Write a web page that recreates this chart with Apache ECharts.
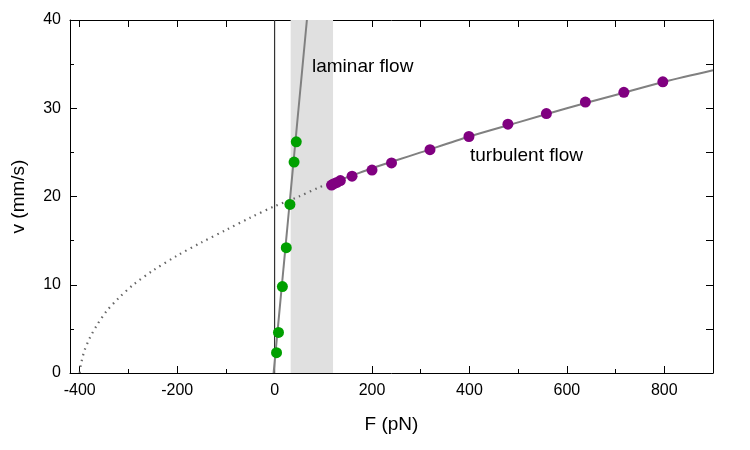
<!DOCTYPE html>
<html>
<head>
<meta charset="utf-8">
<script src="https://cdn.jsdelivr.net/npm/echarts@6/dist/echarts.min.js"></script>
<style>
  html, body { margin: 0; padding: 0; background: #fff; }
  #grafico { width: 750px; height: 450px; }
</style>
</head>
<body>
<div id="grafico"></div>
<script>
// laminar points (green)
const laminarF = [4, 8, 16, 24, 31.5, 40, 44.5]
const laminarV = [2.3, 4.6, 9.8, 14.2, 19.1, 23.9, 26.2]

// turbulent points (purple)
const turbF = [117, 122, 128, 135, 159, 200, 240, 319, 399, 479, 558, 638, 717, 797]
const turbV = [21.3, 21.45, 21.6, 21.8, 22.3, 23.0, 23.8, 25.3, 26.8, 28.2, 29.4, 30.7, 31.8, 33.0]

// fit curves
const lamFitF = [-2, 66.3]
const lamFitV = [0, 40]
const dottedF = [-400, -398, -395, -390, -380, -365, -345, -320, -290, -250, -200, -150, -100, -50, 0, 50, 90, 120]
const dottedV = [0, 0.9, 1.6, 2.6, 3.9, 5.4, 7.0, 8.5, 10.0, 11.6, 13.3, 14.8, 16.2, 17.6, 18.9, 20.0, 21.0, 21.6]
const solidF = [120, 160, 200, 250, 300, 400, 500, 600, 700, 800, 900]
const solidV = [21.6, 22.4, 23.2, 24.1, 25.0, 26.8, 28.4, 30.0, 31.5, 33.0, 34.3]

// zero line and transition band
const zeroF = [0, 0]
const zeroV = [0, 40]
const bandF = [33, 120]

// ticks
const xMajorTicks = [-400, -200, 0, 200, 400, 600, 800]
const xMinorTicks = [-300, -100, 100, 300, 500, 700]
const xAllTicks = [-400, -300, -200, -100, 0, 100, 200, 300, 400, 500, 600, 700, 800]

const zip = (a, b) => a.map((v, i) => [v, b[i]])
const font = '"Liberation Sans", Arial, Helvetica, sans-serif'

let myChart = echarts.init(document.getElementById('grafico'))

const tickBase = (len) => ({ show: true, inside: true, length: len, lineStyle: { color: '#000', width: 1 } })
const frameLine = { show: true, onZero: false, lineStyle: { color: '#000', width: 1 } }
const noLine = { show: false, onZero: false }

let option = {
  animation: false,
  backgroundColor: '#fff',
  textStyle: { fontFamily: font },
  grid: { left: 70, right: 37, top: 20, bottom: 77 },
  xAxis: [
    {
      type: 'value', position: 'bottom', min: -420, max: 900,
      name: 'F (pN)', nameLocation: 'middle', nameGap: 42,
      nameTextStyle: { fontSize: 19, color: '#000', fontFamily: font },
      axisLine: frameLine,
      axisTick: Object.assign(tickBase(7), { customValues: xMajorTicks }),
      axisLabel: { customValues: xMajorTicks, fontSize: 16, color: '#000', margin: 10, fontFamily: font },
      splitLine: { show: false }
    },
    {
      type: 'value', position: 'bottom', min: -420, max: 900,
      axisLine: noLine,
      axisTick: Object.assign(tickBase(4), { customValues: xMinorTicks }),
      axisLabel: { show: false },
      splitLine: { show: false }
    },
    {
      type: 'value', position: 'top', min: -420, max: 900,
      axisLine: frameLine,
      axisTick: Object.assign(tickBase(7), { customValues: xAllTicks }),
      axisLabel: { show: false },
      splitLine: { show: false }
    }
  ],
  yAxis: [
    {
      type: 'value', position: 'left', min: 0, max: 40, interval: 10,
      name: 'v (mm/s)', nameLocation: 'middle', nameGap: 42, nameRotate: 90,
      nameTextStyle: { fontSize: 19, color: '#000', fontFamily: font },
      axisLine: frameLine,
      axisTick: tickBase(7),
      axisLabel: { fontSize: 16, color: '#000', margin: 9, fontFamily: font },
      splitLine: { show: false }
    },
    {
      type: 'value', position: 'left', min: 0, max: 40, interval: 5,
      axisLine: noLine,
      axisTick: tickBase(4),
      axisLabel: { show: false },
      splitLine: { show: false }
    },
    {
      type: 'value', position: 'right', min: 0, max: 40, interval: 5,
      axisLine: frameLine,
      axisTick: tickBase(7),
      axisLabel: { show: false },
      splitLine: { show: false }
    }
  ],
  graphic: [
    { type: 'text', z: 100, x: 312, y: 67, style: { text: 'laminar flow', font: '19px ' + font, fill: '#000', verticalAlign: 'middle' } },
    { type: 'text', z: 100, x: 470, y: 156, style: { text: 'turbulent flow', font: '19px ' + font, fill: '#000', verticalAlign: 'middle' } }
  ],
  series: [
    {
      name: 'zero', type: 'line', data: zip(zeroF, zeroV), symbol: 'none', z: 1,
      lineStyle: { color: '#333', width: 1.2 },
      markArea: {
        silent: true,
        itemStyle: { color: '#e0e0e0' },
        data: [[{ xAxis: bandF[0] }, { xAxis: bandF[1] }]]
      }
    },
    {
      name: 'extrapolated', type: 'line', data: zip(dottedF, dottedV), symbol: 'none', smooth: 0.3, z: 2,
      lineStyle: { color: '#666', width: 2.2, type: [1.5, 4.5] }
    },
    {
      name: 'turbulent fit', type: 'line', data: zip(solidF, solidV), symbol: 'none', smooth: 0.3, z: 2,
      lineStyle: { color: '#808080', width: 2 }
    },
    {
      name: 'laminar fit', type: 'line', data: zip(lamFitF, lamFitV), symbol: 'none', z: 2,
      lineStyle: { color: '#808080', width: 2 }
    },
    {
      name: 'laminar', type: 'scatter', data: zip(laminarF, laminarV), symbolSize: 11, z: 3,
      itemStyle: { color: '#00a000', opacity: 1 }
    },
    {
      name: 'turbulent', type: 'scatter', data: zip(turbF, turbV), symbolSize: 11, z: 3,
      itemStyle: { color: '#800080', opacity: 1 }
    }
  ]
}

myChart.setOption(option)
</script>
</body>
</html>
